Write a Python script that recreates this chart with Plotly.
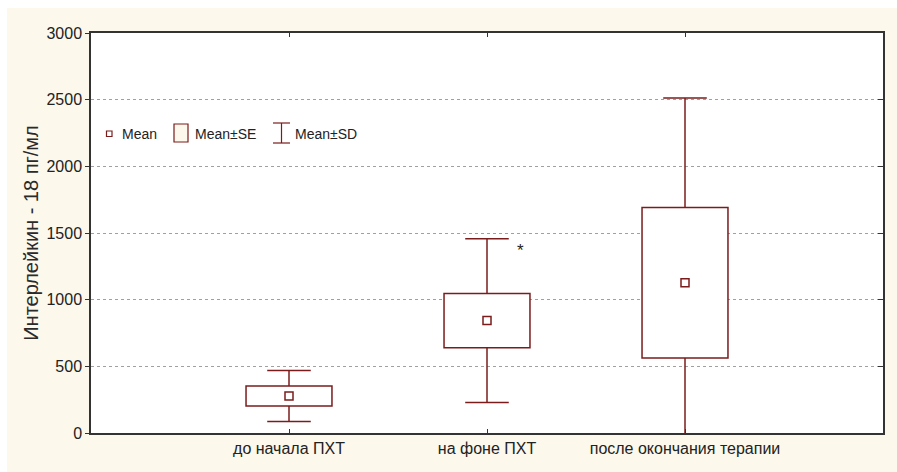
import plotly.graph_objects as go

categories = ["до начала ПХТ", "на фоне ПХТ", "после окончания терапии"]
means = [277, 843, 1127]
se = [75, 203, 564]
sd = [191, 614, 1385]
y_ticks = [0, 500, 1000, 1500, 2000, 2500, 3000]

RED = "#7B1C1C"
CREAM = "#FCF8EC"
AX = "#333333"
FONT = "Liberation Sans, Arial, sans-serif"

L, R, T, B = 91, 14, 33, 39
W, H = 897, 472
PW, PH = W - L - R, H - T - B

def px(x):
    return (x - L) / PW

def py(y):
    return (H - B - y) / PH

xs = list(range(len(categories)))
cap = 0.11

fig = go.Figure()

# SE boxes
fig.add_trace(go.Bar(
    x=xs, y=[2 * s for s in se], base=[m - s for m, s in zip(means, se)],
    width=0.434, marker=dict(color="white", line=dict(color=RED, width=1.5)),
    showlegend=False, hoverinfo="skip",
))

# SD whiskers
wx, wy = [], []
for i, (m, s, d) in enumerate(zip(means, se, sd)):
    wx += [i, i, None, i, i, None, i - cap, i + cap, None, i - cap, i + cap, None]
    wy += [m + s, m + d, None, m - s, m - d, None, m + d, m + d, None, m - d, m - d, None]
fig.add_trace(go.Scatter(x=wx, y=wy, mode="lines", line=dict(color=RED, width=1.5),
                         showlegend=False, hoverinfo="skip"))

# Means
fig.add_trace(go.Scatter(x=xs, y=means, mode="markers",
                         marker=dict(symbol="square", size=8, color="white",
                                     line=dict(color=RED, width=1.5)),
                         showlegend=False))

# top axis ticks (inside)
fig.add_trace(go.Scatter(x=xs, y=[None] * len(xs), xaxis="x2", yaxis="y2",
                         showlegend=False, hoverinfo="skip"))

shapes = [
    dict(type="rect", xref="paper", yref="paper", x0=px(7), x1=px(W + 5), y0=py(8), y1=py(H + 5),
         fillcolor=CREAM, line=dict(width=0), layer="below"),
    dict(type="rect", xref="paper", yref="paper", x0=0, x1=1, y0=0, y1=1,
         fillcolor="white", line=dict(width=0), layer="below"),
    # legend: mean marker
    dict(type="rect", xref="paper", yref="paper", x0=px(106.5), x1=px(112), y0=py(136.5), y1=py(131),
         fillcolor="white", line=dict(color=RED, width=1.2)),
    # legend: SE box
    dict(type="rect", xref="paper", yref="paper", x0=px(174), x1=px(188), y0=py(142), y1=py(124),
         fillcolor=CREAM, line=dict(color=RED, width=1.2)),
    # legend: SD I-beam
    dict(type="line", xref="paper", yref="paper", x0=px(281.5), x1=px(281.5), y0=py(143), y1=py(123),
         line=dict(color=RED, width=1.2)),
    dict(type="line", xref="paper", yref="paper", x0=px(273), x1=px(290), y0=py(123), y1=py(123),
         line=dict(color=RED, width=1.2)),
    dict(type="line", xref="paper", yref="paper", x0=px(273), x1=px(290), y0=py(143), y1=py(143),
         line=dict(color=RED, width=1.2)),
]

annotations = []
for label, x0 in [("Mean", 120), ("Mean±SE", 193), ("Mean±SD", 293)]:
    annotations.append(dict(text=label, xref="paper", yref="paper", x=px(x0), y=py(133.5),
                            xanchor="left", yanchor="middle", showarrow=False,
                            font=dict(family=FONT, size=14, color="#222222")))
# significance mark
annotations.append(dict(text="*", x=1.17, y=means[1] + sd[1] - 90, xref="x", yref="y",
                        showarrow=False, font=dict(family=FONT, size=17, color="#222222")))

fig.update_layout(
    width=W, height=H,
    margin=dict(l=L, r=R, t=T, b=B),
    paper_bgcolor="white", plot_bgcolor="rgba(0,0,0,0)",
    barmode="overlay",
    shapes=shapes, annotations=annotations,
    font=dict(family=FONT, color="#222222"),
    xaxis=dict(range=[-1, 3], tickvals=xs, ticktext=categories, ticks="inside", ticklen=4,
               tickcolor=AX, showgrid=False, zeroline=False, showline=True, linecolor=AX,
               linewidth=1.5, mirror=True, tickfont=dict(size=16, color="#222222")),
    xaxis2=dict(range=[-1, 3], tickvals=xs, overlaying="x", side="top", ticks="inside",
                ticklen=4, tickcolor=AX, showticklabels=False, showgrid=False, zeroline=False),
    yaxis=dict(range=[0, 3000], tickvals=y_ticks, ticks="outside", ticklen=4, tickcolor=AX,
               showgrid=True, gridcolor="#A0A0A0", griddash="dot", gridwidth=1,
               zeroline=False, showline=True, linecolor=AX, linewidth=1.5, mirror=True,
               tickfont=dict(size=16, color="#222222"),
               title=dict(text="Интерлейкин - 18 пг/мл", font=dict(size=20, color="#2a2a2a"),
                          standoff=2)),
    yaxis2=dict(range=[0, 3000], tickvals=y_ticks, overlaying="y", side="right", ticks="inside",
                ticklen=5, tickcolor=AX, showticklabels=False, showgrid=False, zeroline=False),
)

fig.write_html("out.html")
